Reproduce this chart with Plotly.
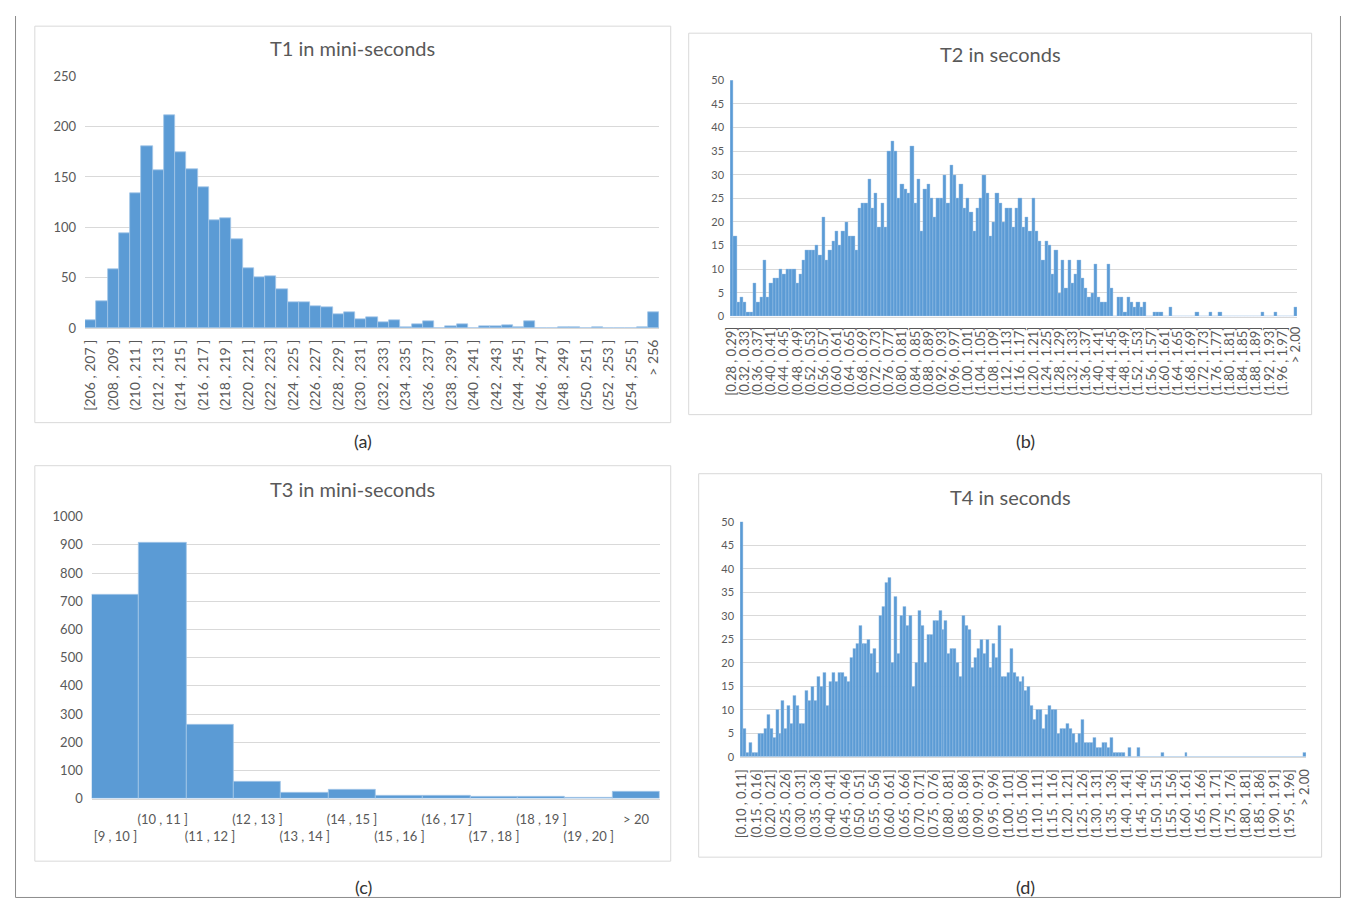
import plotly.graph_objects as go

# page is 1355x914; the html body has an 8px margin, so the figure is 16px smaller
PAGE_W, PAGE_H = 1355, 914
OFF = 8
FW, FH = PAGE_W - 2 * OFF, PAGE_H - 2 * OFF
# measured mapping page-pixel -> photographed pixel (obs = A + S * page)
AX, SX = 5.2, 0.992
AY, SY = 8.0, 0.981

# ---------------- data ----------------
# T1 (mini-seconds): bins [206,207], (207,208], ... (255,256], > 256
t1_labels = ["[206 , 207 ]"] + [f"({206 + k} , {207 + k} ]" for k in range(1, 50)] + ["> 256"]
t1_counts = [8, 27, 58, 94, 134, 181, 157, 211, 175, 158,
             140, 107, 109, 88, 59, 50, 51, 39, 26, 26,
             22, 21, 14, 16, 9, 11, 6, 8, 1, 4,
             7, 0, 2, 4, 0, 2, 2, 3, 1, 7,
             0, 0, 1, 1, 0, 1, 0, 0, 0, 1,
             16]
t1_ticks = t1_labels[::2]

# T2 (seconds): bins [0.28,0.29], (0.29,0.30], ... (1.99,2.00], > 2.00
t2_labels = ["[0.28 , 0.29]"] + [f"({(28 + k) / 100:.2f} , {(29 + k) / 100:.2f}]" for k in range(1, 172)] + ["> 2.00"]
t2_counts = [50, 17, 3, 4, 3, 1, 1, 7, 3, 4,
             12, 4, 7, 8, 8, 10, 9, 10, 10, 10,
             7, 9, 12, 14, 14, 14, 15, 13, 21, 12,
             14, 16, 18, 15, 18, 20, 17, 17, 14, 23,
             24, 24, 29, 23, 26, 19, 24, 19, 35, 37,
             35, 25, 28, 27, 26, 36, 24, 29, 18, 27,
             28, 25, 21, 25, 25, 30, 24, 32, 30, 25,
             28, 23, 25, 22, 18, 23, 25, 30, 26, 17,
             20, 26, 24, 20, 23, 23, 19, 23, 25, 19,
             21, 18, 25, 18, 16, 12, 16, 15, 9, 14,
             5, 12, 6, 12, 7, 9, 12, 8, 6, 4,
             5, 11, 4, 3, 3, 11, 6, 0, 4, 4,
             1, 4, 3, 2, 3, 2, 3, 0, 0, 1,
             1, 1, 0, 0, 2, 0, 0, 0, 0, 0,
             0, 0, 1, 0, 0, 0, 1, 0, 0, 1,
             0, 0, 0, 0, 0, 0, 0, 0, 0, 0,
             0, 0, 1, 0, 0, 0, 1, 0, 0, 0,
             0, 0, 2]
t2_ticks = t2_labels[::4]

# T3 (mini-seconds)
t3_labels = ["[9 , 10 ]", "(10 , 11 ]", "(11 , 12 ]", "(12 , 13 ]", "(13 , 14 ]", "(14 , 15 ]",
             "(15 , 16 ]", "(16 , 17 ]", "(17 , 18 ]", "(18 , 19 ]", "(19 , 20 ]", "> 20"]
t3_counts = [722, 906, 261, 60, 20, 30, 10, 10, 5, 5, 2, 24]

# T4 (seconds): bins [0.10,0.11], (0.11,0.12], ... (1.99,2.00], > 2.00
t4_labels = ["[0.10 , 0.11]"] + [f"({(10 + k) / 100:.2f} , {(11 + k) / 100:.2f}]" for k in range(1, 190)] + ["> 2.00"]
t4_counts = [50, 6, 1, 3, 1, 1, 5, 5, 6, 9,
             6, 4, 10, 5, 12, 6, 11, 7, 13, 11,
             7, 7, 14, 12, 15, 12, 17, 15, 18, 11,
             16, 18, 16, 18, 18, 17, 16, 21, 23, 24,
             28, 24, 24, 25, 22, 23, 18, 30, 32, 37,
             38, 20, 34, 22, 30, 32, 28, 30, 15, 20,
             31, 28, 20, 26, 26, 29, 29, 31, 27, 29,
             22, 23, 23, 20, 17, 30, 28, 27, 19, 21,
             23, 25, 22, 25, 19, 24, 21, 28, 17, 17,
             18, 23, 18, 17, 16, 17, 14, 15, 11, 8,
             10, 10, 6, 9, 11, 10, 10, 5, 6, 6,
             7, 6, 5, 3, 5, 8, 3, 3, 3, 4,
             2, 2, 3, 3, 2, 4, 1, 1, 1, 1,
             0, 2, 0, 0, 2, 0, 0, 0, 0, 0,
             0, 0, 1, 0, 0, 0, 0, 0, 0, 0,
             1, 0, 0, 0, 0, 0, 0, 0, 0, 0,
             0, 0, 0, 0, 0, 0, 0, 0, 0, 0,
             0, 0, 0, 0, 0, 0, 0, 0, 0, 0,
             0, 0, 0, 0, 0, 0, 0, 0, 0, 0,
             1]
t4_ticks = t4_labels[::5]

titles = ["T1 in mini-seconds", "T2 in seconds", "T3 in mini-seconds", "T4 in seconds"]
captions = ["(a)", "(b)", "(c)", "(d)"]

# ---------------- style ----------------
BAR = "#5b9bd5"
EDGE = "#a3c6e8"
GRID = "#d9d9d9"
TXT = "#595959"
FONT = "Lato"


def px_x(r):
    p = (r - AX) / SX
    return (p - OFF) / FW


def px_y(r):
    p = (r - AY) / SY
    return 1 - (p - OFF) / FH


fig = go.Figure()

# plot-area rectangles in target pixels: (left, right, top, bottom)
areas = [(83.3, 658.5, 76, 327.5), (729.5, 1297.5, 80, 316), (90, 659, 516, 797.5), (739.5, 1306.5, 521, 756)]
data = [(t1_labels, t1_counts), (t2_labels, t2_counts), (t3_labels, t3_counts), (t4_labels, t4_counts)]
yranges = [[0, 250], [0, 50], [0, 1000], [0, 50]]
ydticks = [50, 5, 100, 5]
ytick_size = [13, 11, 13, 11]
xtick_size = [14, 13, 13, 13]
edge_w = [0.8, 0.4, 0.8, 0.4]
ystandoff = [8, 5, 8, 5]
xstandoff = [5, 4, 9, 6]

for i, ((lab, cnt), (l, r, t, b)) in enumerate(zip(data, areas)):
    n = "" if i == 0 else str(i + 1)
    fig.add_trace(go.Bar(x=lab, y=cnt, xaxis="x" + n, yaxis="y" + n,
                         marker=dict(color=BAR, line=dict(color=EDGE, width=edge_w[i])),
                         showlegend=False, hoverinfo="x+y"))
    xa = dict(domain=[px_x(l), px_x(r)], anchor="y" + n, type="category",
              range=[-0.5, len(lab) - 0.5], showgrid=False, showline=True,
              linecolor=GRID, linewidth=1, ticks="", ticklabelstandoff=xstandoff[i],
              tickfont=dict(family=FONT, size=xtick_size[i], color=TXT),
              fixedrange=True)
    if i == 0:
        xa.update(tickmode="array", tickvals=t1_ticks, ticktext=t1_ticks, tickangle=-90)
    elif i == 1:
        xa.update(tickmode="array", tickvals=t2_ticks, ticktext=t2_ticks, tickangle=-90)
    elif i == 3:
        xa.update(tickmode="array", tickvals=t4_ticks, ticktext=t4_ticks, tickangle=-90)
    else:
        texts = [("<br>" + s) if k % 2 == 0 else s for k, s in enumerate(t3_labels)]
        xa.update(tickmode="array", tickvals=t3_labels, ticktext=texts, tickangle=0)
    ya = dict(domain=[px_y(b), px_y(t)], anchor="x" + n, range=yranges[i],
              dtick=ydticks[i], showgrid=True, gridcolor=GRID, gridwidth=1,
              zeroline=False, showline=False, ticks="",
              tickfont=dict(family=FONT, size=ytick_size[i], color=TXT),
              ticklabelstandoff=ystandoff[i], fixedrange=True)
    fig.layout["xaxis" + n] = xa
    fig.layout["yaxis" + n] = ya

# chart boxes (left, right, top, bottom) in target pixels
boxes = [(33, 670, 26, 422), (688, 1312, 33, 414), (33, 670, 465, 860), (698, 1322, 473, 856)]
shapes = []
for (l, r, t, b) in boxes:
    shapes.append(dict(type="rect", xref="paper", yref="paper",
                       x0=px_x(l), x1=px_x(r), y0=px_y(b), y1=px_y(t),
                       line=dict(color=GRID, width=1), layer="below"))
# outer frame (left, bottom and right edges), kept inside the figure
FR = "#8c8c8c"
fx0 = max(px_x(8), 0.0004)
fx1 = min(px_x(1347), 0.9996)
fy0 = max(px_y(912), 0.0006)
shapes.append(dict(type="line", xref="paper", yref="paper", x0=fx0, x1=fx0, y0=fy0, y1=1,
                   line=dict(color=FR, width=1)))
shapes.append(dict(type="line", xref="paper", yref="paper", x0=fx0, x1=fx1, y0=fy0, y1=fy0,
                   line=dict(color=FR, width=1)))
shapes.append(dict(type="line", xref="paper", yref="paper", x0=fx1, x1=fx1, y0=fy0, y1=1,
                   line=dict(color=FR, width=1)))

annotations = []
title_pos = [(351, 48), (1000, 54), (351, 488), (1010, 496)]
for txt, (x, y) in zip(titles, title_pos):
    annotations.append(dict(text=txt, xref="paper", yref="paper", x=px_x(x), y=px_y(y),
                            xanchor="center", yanchor="middle", showarrow=False,
                            font=dict(family=FONT, size=20, color=TXT)))
cap_pos = [(362, 440), (1025, 440), (362, 886), (1025, 886)]
for txt, (x, y) in zip(captions, cap_pos):
    annotations.append(dict(text=txt, xref="paper", yref="paper", x=px_x(x), y=px_y(y),
                            xanchor="center", yanchor="middle", showarrow=False,
                            font=dict(family=FONT, size=18, color="#333333")))

fig.update_layout(width=FW, height=FH, margin=dict(l=0, r=0, t=0, b=0),
                  paper_bgcolor="white", plot_bgcolor="white", bargap=0,
                  shapes=shapes, annotations=annotations)

fig.write_html("out.html")
